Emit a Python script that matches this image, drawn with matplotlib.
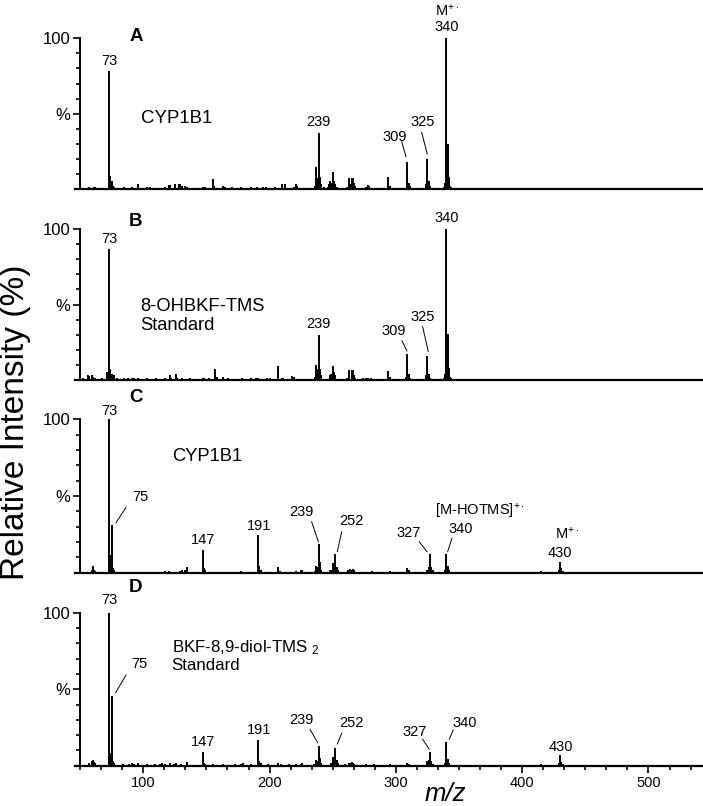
import matplotlib
matplotlib.use('Agg')
import matplotlib.pyplot as plt
from matplotlib.ticker import MultipleLocator, FixedLocator

plt.rcParams['font.family'] = ['Liberation Sans', 'DejaVu Sans']
plt.rcParams['mathtext.fontset'] = 'custom'
plt.rcParams['mathtext.rm'] = 'Liberation Sans'
plt.rcParams['mathtext.it'] = 'Liberation Sans:italic'
plt.rcParams['mathtext.default'] = 'regular'

# ---- spectra (m/z, relative intensity %) ----
mz_a = [57, 61, 62, 73, 74, 75, 76, 77, 85, 91, 96, 103, 105, 117, 120, 121, 125, 128, 129, 131,
        133, 135, 147, 149, 155, 156, 163, 165, 170, 177, 185, 190, 195, 197, 204, 210, 212, 219,
        221, 222, 236, 237, 238, 239, 240, 241, 243, 246, 247, 248, 249, 250, 251, 252, 253, 261,
        263, 264, 265, 266, 267, 268, 276, 278, 279, 294, 295, 309, 310, 311, 324, 325, 326, 327,
        338, 339, 340, 341, 342, 343, 344, 355, 400]
int_a = [1.5, 1, 1.5, 78.5, 8.5, 5, 2, 1, 1, 1.5, 3, 1, 1, 1, 2.5, 2.5, 3.5, 3.5, 3.5, 2,
         2, 1, 1.5, 1.5, 6.5, 2, 2, 1.5, 1, 1, 1.5, 1.5, 1.5, 1.5, 1, 3.5, 3, 1.5,
         3.5, 2, 2, 14.8, 7, 37, 8, 3, 1.5, 1.5, 3, 5, 4, 11.5, 5, 3, 1.5, 1,
         7.5, 3, 7.5, 7.5, 4, 2, 1, 2.5, 2, 8, 2, 17.7, 4, 2, 3, 19.7, 5, 2,
         1.5, 4, 100, 30, 8, 2, 1, 0.5, 0.5]

mz_b = [52, 56, 57, 59, 60, 62, 67, 71, 73, 74, 75, 76, 77, 79, 85, 88, 91, 93, 96, 103, 110,
        117, 121, 122, 126, 127, 131, 137, 147, 148, 152, 157, 158, 163, 167, 178, 185, 189, 191,
        198, 200, 207, 210, 211, 218, 219, 236, 237, 238, 239, 240, 241, 248, 249, 250, 251, 252,
        261, 263, 265, 266, 267, 268, 274, 276, 278, 280, 294, 295, 308, 309, 310, 311, 324, 325,
        326, 327, 338, 339, 340, 341, 342, 343, 344]
int_b = [1, 3, 2.5, 3.5, 2, 1, 1, 5, 86.5, 7, 4, 2, 3.5, 1, 1, 1, 1, 1, 1, 1, 1,
         1.5, 3, 1.5, 4, 1.5, 1, 1, 1, 1, 1, 7, 2, 2, 1, 1, 1, 1, 1,
         1, 1, 9.5, 1.5, 1, 2.5, 2, 2, 10, 7, 30, 7, 3, 3, 4, 9, 5, 3,
         1, 6.5, 6.5, 6.5, 3.5, 1.5, 1, 1.5, 1.5, 1, 6, 2, 2, 17, 4, 1.5, 3, 16,
         4, 1, 1.5, 4, 100, 30.5, 8, 2, 1]

mz_c = [59, 60, 61, 62, 73, 74, 75, 76, 77, 85, 103, 117, 120, 129, 131, 133, 135, 147, 148, 149,
        163, 177, 191, 192, 193, 207, 208, 221, 225, 226, 236, 237, 238, 239, 240, 241, 248, 249,
        250, 251, 252, 253, 254, 262, 264, 265, 266, 267, 281, 295, 309, 310, 325, 326, 327, 328,
        329, 339, 340, 341, 342, 355, 370, 401, 415, 429, 430, 431, 432]
int_c = [2, 4.5, 2, 1, 100, 11.5, 31, 3, 2, 0.5, 0.5, 1, 1, 1, 1.5, 2, 3.5, 14.6, 3, 1.5,
         0.5, 1, 24.6, 4.5, 2, 3.5, 1, 1, 1.5, 2, 1, 4.5, 4, 18.5, 7, 2, 1.5, 2,
         6.5, 3, 12, 4, 1.5, 1.5, 2.5, 2, 2.5, 1.5, 1, 1, 3, 1.5, 2, 4, 12, 4,
         1.5, 2, 12, 4.5, 1.5, 0.5, 0.5, 0.5, 1, 1.5, 7, 3, 1]

mz_d = [57, 59, 60, 61, 62, 73, 74, 75, 76, 77, 84, 89, 91, 93, 96, 103, 109, 113, 115, 117, 121,
        124, 126, 130, 135, 147, 148, 149, 155, 163, 173, 177, 179, 185, 191, 192, 193, 199, 207,
        209, 215, 221, 225, 226, 235, 237, 238, 239, 240, 241, 249, 250, 251, 252, 253, 254, 260,
        263, 264, 265, 266, 267, 276, 283, 295, 309, 310, 319, 325, 326, 327, 328, 329, 339, 340,
        341, 342, 355, 368, 415, 429, 430, 431, 432]
int_d = [1.5, 3, 4, 2.5, 1.5, 100, 8, 45.5, 3, 1.5, 1, 1, 1.5, 1, 1.5, 1, 1, 1, 1.5, 1, 1.5,
         1, 1.5, 1, 2.5, 9, 2, 1, 1, 1, 1, 1, 1.5, 1, 16.8, 3, 1.5, 1, 1.5,
         1, 1, 1, 1, 1.5, 1, 3.5, 3, 13, 5, 2, 1.5, 6, 3, 11.4, 3.5, 1.5, 1,
         1.5, 2, 2.5, 2, 1, 1, 1, 1, 2, 1, 0.5, 3, 3.5, 9, 3, 1, 2, 15.7,
         4.5, 1.5, 0.5, 0.5, 1, 1.5, 7, 2.5, 1]

# peak labels: (text, x, y) and leader lines (x0, y0, x1, y1)
labels_a = [('73', 73, 85), ('239', 239, 44.5), ('309', 298.7, 34.7), ('325', 320.9, 44.7),
            ('340', 340, 107.7), ('M$^{+\\cdot}$', 340.5, 118.5)]
leaders_a = [(304.6, 31.4, 308, 21.4), (320.4, 37.6, 324.9, 23.2)]

labels_b = [('73', 73, 93.4), ('239', 239, 37.1), ('309', 297.9, 32.5), ('325', 321.2, 41.9),
            ('340', 340, 107.5)]
leaders_b = [(304.8, 26, 308.8, 19.2), (321.2, 35.3, 325.7, 18.7)]

labels_c = [('73', 73, 105.6), ('75', 97.4, 49.5), ('147', 147.5, 21.3), ('191', 191.5, 30.6),
            ('239', 224.9, 39.4), ('252', 265.2, 33.4), ('327', 310.1, 25.7), ('340', 351.5, 28.3),
            ('430', 430, 12.6)]
leaders_c = [(86.3, 42.6, 78.4, 32.6), (233.3, 33.2, 238.6, 20.2), (257.1, 26.7, 253.6, 13.7),
             (318.5, 20.2, 324.6, 13.7), (344.4, 22.4, 341, 13.7)]

labels_d = [('73', 73, 108.3), ('75', 97, 66.5), ('147', 147.5, 15.3), ('191', 191.4, 23.3),
            ('239', 225.5, 29.9), ('252', 265.2, 27.6), ('327', 315.2, 22.2), ('340', 354.2, 28.1),
            ('430', 430.7, 12.4)]
leaders_d = [(86.3, 59.3, 78.1, 47.7), (232, 23.8, 238.1, 15), (257.1, 21.2, 253.6, 14.2),
             (321.2, 17.3, 326.4, 10.7), (345.4, 23.3, 342.3, 17.3)]

panel_letters = ['A', 'B', 'C', 'D']
letter_y = [101, 104.8, 114.5, 116.5]

W, H = 703, 806
fig = plt.figure(figsize=(W / 100, H / 100), dpi=100)

# pixel boxes (top, bottom) of each panel
boxes = [(38.3, 189), (229, 380), (419.3, 572.7), (612.7, 765.7)]
x_left, x_right = 75.1, 703.4

spectra = [(mz_a, int_a), (mz_b, int_b), (mz_c, int_c), (mz_d, int_d)]
all_labels = [labels_a, labels_b, labels_c, labels_d]
all_leaders = [leaders_a, leaders_b, leaders_c, leaders_d]

axes = []
for i in range(4):
    top, bot = boxes[i]
    ax = fig.add_axes([x_left / W, 1 - bot / H, (x_right - x_left) / W, (bot - top) / H])
    ax.set_xlim(46, 543.5)
    ax.set_ylim(0, 100)
    ax.patch.set_alpha(0)
    for s in ['top', 'right']:
        ax.spines[s].set_visible(False)
    ax.spines['left'].set_position(('data', 50))
    ax.spines['left'].set_linewidth(1.4)
    ax.spines['bottom'].set_linewidth(1.6)

    mz, inten = spectra[i]
    ax.vlines(mz, 0, inten, color='black', lw=1.4, clip_on=False)

    for txt, x, y in all_labels[i]:
        ax.text(x, y, txt, ha='center', va='center', fontsize=10.5, clip_on=False)
    for x0, y0, x1, y1 in all_leaders[i]:
        ax.plot([x0, x1], [y0, y1], color='black', lw=0.7, clip_on=False)

    ax.text(94.2, letter_y[i], panel_letters[i], ha='center', va='center',
            fontsize=13.5, fontweight='bold')

    ax.yaxis.set_major_locator(FixedLocator([50, 100]))
    ax.set_yticklabels(['%', '100'])
    ax.yaxis.set_minor_locator(FixedLocator([10, 20, 30, 40, 60, 70, 80, 90]))
    ax.tick_params(axis='y', which='major', length=5, width=1.2, pad=2, labelsize=12)
    ax.tick_params(axis='y', which='minor', length=3, width=1.2)

    if i < 3:
        ax.set_xticks([])
        ax.xaxis.set_minor_locator(FixedLocator([]))
    else:
        ax.xaxis.set_major_locator(MultipleLocator(100))
        ax.xaxis.set_minor_locator(MultipleLocator(100 / 6))
        ax.tick_params(axis='x', which='major', length=5, width=1.2, pad=2.5, labelsize=10.5)
        ax.tick_params(axis='x', which='minor', length=3, width=1.2)
    axes.append(ax)

ax_a, ax_b, ax_c, ax_d = axes

# compound labels
ax_a.text(98.2, 47.1, 'CYP1B1', ha='left', va='center', fontsize=13.4)
ax_b.text(97.4, 42.5, '8-OHBKF-TMS\nStandard', ha='left', va='center', fontsize=13.2,
          linespacing=1.15)
ax_c.text(122.5, 75.6, 'CYP1B1', ha='left', va='center', fontsize=13.2)
ax_d.text(122.5, 71.9, 'BKF-8,9-diol-TMS $_2$\nStandard', ha='left', va='center',
          fontsize=12.2, linespacing=1.1)

# ion annotations in panel C
ax_c.text(330.7, 39.8, '[M-HOTMS]$^{+\\cdot}$', ha='left', va='center', fontsize=10.5)
ax_c.text(426, 25.2, 'M$^{+\\cdot}$', ha='left', va='center', fontsize=10.5)

# x axis title under panel D
ax_d.text(338.9, -18.5, 'm/z', fontsize=18.5, fontstyle='italic', ha='center', va='center',
          clip_on=False)

fig.text(16 / W, 1 - 422 / H, 'Relative Intensity (%)', rotation=90, ha='center',
         va='center', fontsize=24)

fig.savefig('out.png', dpi=100, facecolor='white')
